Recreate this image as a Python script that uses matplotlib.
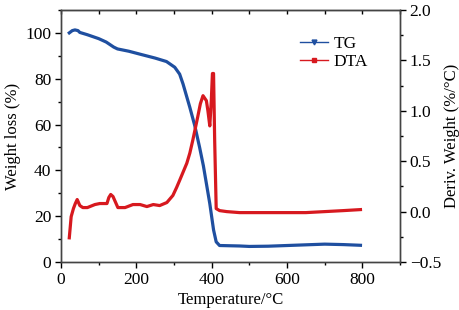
import matplotlib
matplotlib.use("Agg")
import matplotlib.pyplot as plt
from matplotlib.lines import Line2D
from matplotlib.ticker import MultipleLocator

plt.rcParams['font.family'] = ['Liberation Serif', 'DejaVu Serif']
plt.rcParams['font.size'] = 12.5

# TG curve (weight loss, %)
tg_temp = [22, 30, 37, 45, 50, 70, 100, 120, 140, 150, 180, 210, 250, 280, 302, 315,
           324, 342, 355, 368, 378, 395, 405, 412, 421, 474, 500, 550, 600, 650, 700, 750, 795]
tg_weight = [100.0, 101.0, 101.3, 101.0, 100.2, 99.2, 97.5, 96.0, 93.8, 93.0, 92.0, 90.7,
             89.0, 87.5, 85.0, 82.0, 77.7, 67.5, 59.6, 50.0, 42.0, 25.5, 14.0, 8.8, 7.2,
             7.0, 6.8, 6.9, 7.2, 7.5, 7.8, 7.6, 7.3]

# DTA curve (deriv. weight, %/C)
dta_temp = [22, 27, 33, 38, 43, 50, 58, 70, 90, 103, 122, 127, 132, 138, 151, 170, 191,
            210, 228, 245, 262, 281, 297, 307, 315, 334, 342, 350, 363, 370, 377, 386,
            390, 395, 399, 402, 405, 408, 412, 421, 440, 474, 550, 600, 650, 700, 750, 795]
dta_deriv = [-0.26, -0.05, 0.03, 0.08, 0.12, 0.06, 0.04, 0.04, 0.07, 0.08, 0.08, 0.14,
             0.17, 0.15, 0.04, 0.04, 0.07, 0.07, 0.05, 0.07, 0.06, 0.09, 0.16, 0.24, 0.31,
             0.48, 0.58, 0.71, 0.94, 1.07, 1.15, 1.1, 1.0, 0.85, 1.1, 1.37, 1.37, 0.7,
             0.03, 0.01, 0.0, -0.01, -0.01, -0.01, -0.01, 0.0, 0.01, 0.02]

blue = '#1f4fa0'
red = '#d7191f'

fig = plt.figure(figsize=(4.6, 3.1), dpi=100)
ax = fig.add_axes([0.1326, 0.1548, 0.737, 0.813])
ax2 = ax.twinx()

ax.plot(tg_temp, tg_weight, color=blue, lw=2.3)
ax2.plot(dta_temp, dta_deriv, color=red, lw=2.3)

ax.set_xlim(0, 900)
ax.set_ylim(0, 110)
ax2.set_ylim(-0.5, 2.0)

ax.xaxis.set_major_locator(MultipleLocator(200))
ax.xaxis.set_minor_locator(MultipleLocator(100))
ax.yaxis.set_major_locator(MultipleLocator(20))
ax.yaxis.set_minor_locator(MultipleLocator(10))
ax2.yaxis.set_major_locator(MultipleLocator(0.5))
ax2.yaxis.set_minor_locator(MultipleLocator(0.25))

ax.tick_params(which='both', direction='out', top=False, width=1)
ax.tick_params(which='major', length=4, pad=3)
ax.tick_params(which='minor', length=2.5)
ax2.tick_params(which='both', direction='out', width=1)
ax2.tick_params(which='major', length=4, pad=3)
ax2.tick_params(which='minor', length=2.5)

# top ticks pointing inward
top = ax.secondary_xaxis('top')
top.xaxis.set_major_locator(MultipleLocator(100))
top.tick_params(direction='in', length=3, labeltop=False, width=1)

for a in (ax, ax2):
    for s in a.spines.values():
        s.set_color('#444444')
        s.set_linewidth(1)

ax.set_xlabel('Temperature/°C', labelpad=3, fontsize=12)
ax.set_ylabel('Weight loss (%)', labelpad=3, fontsize=12)
ax2.set_ylabel('Deriv. Weight (%/°C)', labelpad=2, fontsize=12)

handles = [Line2D([], [], color=blue, lw=1, marker='v', ms=3.5),
           Line2D([], [], color=red, lw=1, marker='s', ms=2.5)]
ax2.legend(handles, ['TG', 'DTA'], loc='upper left', bbox_to_anchor=(0.66, 0.96),
           frameon=False, handlelength=1.6, handletextpad=0.3, labelspacing=0.1,
           fontsize=12.5)

fig.savefig('out.png', dpi=100)
